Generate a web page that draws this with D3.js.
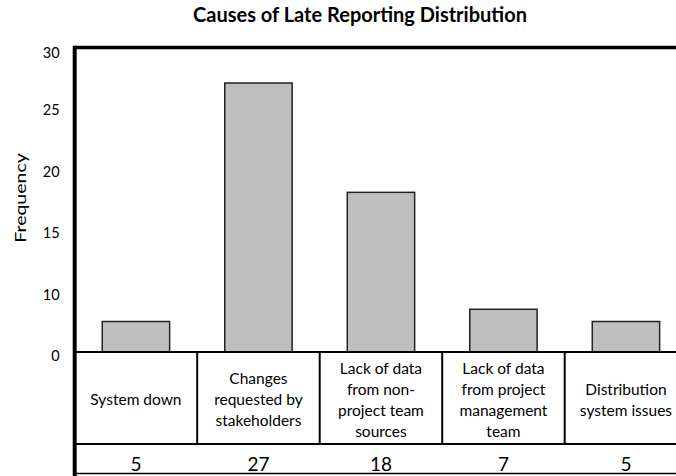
<!DOCTYPE html>
<html>
<head>
<meta charset="utf-8">
<script src="https://cdn.jsdelivr.net/npm/d3@7"></script>
<style>
  html, body { margin: 0; padding: 0; background: #fff; }
  svg { display: block; }
  text { font-family: Lato, "Open Sans", sans-serif; fill: #000; }
</style>
</head>
<body>
<svg id="chart" width="676" height="476"></svg>
<script>
// Late-reporting causes and how often each occurred
const categories = [
  "System down",
  "Changes requested by stakeholders",
  "Lack of data from non-project team sources",
  "Lack of data from project management team",
  "Distribution system issues"
];
const categoryLines = [
  ["System down"],
  ["Changes", "requested by", "stakeholders"],
  ["Lack of data", "from non-", "project team", "sources"],
  ["Lack of data", "from project", "management", "team"],
  ["Distribution", "system issues"]
];
const frequencies = [5, 27, 18, 7, 5];
const yTickValues = [0, 10, 15, 20, 25, 30];
const chartTitle = "Causes of Late Reporting Distribution";
const yAxisTitle = "Frequency";

(function () {
  const svg = d3.select("#chart");

  // Plot frame geometry
  const frameLeft = 74.7, frameTop = 47.5, baseY = 352, rowY = 444, tableBottom = 473.5;
  const frameRight = 687.2;

  // Category columns double as the table columns below the plot
  const xCol = d3.scaleBand().domain(categories).range([frameLeft, frameRight]).padding(0);
  const xBar = d3.scaleBand().domain(categories).range([frameLeft, frameRight])
    .paddingInner(0.45).paddingOuter(0.225);

  // Piecewise value axis: ticks at 0, 10, 15, 20, 25, 30
  const y = d3.scaleLinear().domain(yTickValues)
    .range([baseY, 291, 229.3, 167.7, 106, frameTop + 1]);

  // Title
  svg.append("text")
    .attr("x", 360).attr("y", 22)
    .attr("text-anchor", "middle")
    .style("font-weight", "bold")
    .style("font-size", "20px")
    .text(chartTitle);

  // Y axis title
  svg.append("text")
    .attr("transform", "translate(26,198) rotate(-90) scale(1.22,1)")
    .attr("text-anchor", "middle")
    .style("font-size", "16px")
    .text(yAxisTitle);

  // Bars
  svg.append("g").selectAll("rect")
    .data(frequencies)
    .join("rect")
    .attr("x", (d, i) => xBar(categories[i]))
    .attr("width", xBar.bandwidth())
    .attr("y", d => y(d))
    .attr("height", d => y(0) - y(d))
    .attr("fill", "#bfbfbf")
    .attr("stroke", "#222")
    .attr("stroke-width", 1.5);

  // Y axis labels (no tick marks, no domain line)
  const yAxis = svg.append("g")
    .attr("transform", `translate(${frameLeft},0)`)
    .call(d3.axisLeft(y).tickValues(yTickValues).tickSize(0).tickPadding(15).tickFormat(d3.format("d")));
  yAxis.select(".domain").remove();
  yAxis.selectAll("text")
    .attr("dy", "0.32em")
    .attr("transform", "translate(0,4)")
    .style("font-size", "14.5px")
    .style("font-family", "Lato, 'Open Sans', sans-serif")
    .attr("fill", "#000");

  // Table under the plot: category names and frequency values
  const table = svg.append("g");
  [[baseY, 2], [rowY, 2], [tableBottom, 1.5]].forEach(([yy, w]) => {
    table.append("line")
      .attr("x1", frameLeft).attr("x2", frameRight).attr("y1", yy).attr("y2", yy)
      .attr("stroke", "#000").attr("stroke-width", w);
  });

  // Column dividers in the name row
  table.selectAll("line.col")
    .data(categories)
    .join("line")
    .attr("class", "col")
    .attr("x1", d => xCol(d) + xCol.step())
    .attr("x2", d => xCol(d) + xCol.step())
    .attr("y1", baseY).attr("y2", rowY)
    .attr("stroke", "#000").attr("stroke-width", 2);

  // Category names, multi-line, centred in each cell
  const lineH = 21;
  const nameCenter = 400;
  categoryLines.forEach((lines, i) => {
    const cx = xCol(categories[i]) + xCol.bandwidth() / 2;
    const startY = nameCenter - (lines.length - 1) * lineH / 2;
    const t = table.append("text")
      .attr("text-anchor", "middle")
      .style("font-size", "15.5px");
    lines.forEach((ln, j) => {
      t.append("tspan")
        .attr("x", cx)
        .attr("y", startY + j * lineH)
        .attr("dy", "0.35em")
        .text(ln);
    });
  });

  // Frequency values row
  table.selectAll("text.val")
    .data(frequencies)
    .join("text")
    .attr("class", "val")
    .attr("x", (d, i) => xCol(categories[i]) + xCol.bandwidth() / 2)
    .attr("y", 470.5)
    .attr("text-anchor", "middle")
    .style("font-size", "19px")
    .text(d => d);

  // Outer frame: heavy top and left edges
  svg.append("line")
    .attr("x1", frameLeft).attr("x2", frameRight + 4).attr("y1", frameTop).attr("y2", frameTop)
    .attr("stroke", "#000").attr("stroke-width", 3.5);
  svg.append("line")
    .attr("x1", frameLeft).attr("x2", frameLeft).attr("y1", frameTop - 1.75).attr("y2", 480)
    .attr("stroke", "#000").attr("stroke-width", 4);
  svg.append("line")
    .attr("x1", frameRight).attr("x2", frameRight).attr("y1", frameTop).attr("y2", 480)
    .attr("stroke", "#000").attr("stroke-width", 3.5);
})();
</script>
</body>
</html>
